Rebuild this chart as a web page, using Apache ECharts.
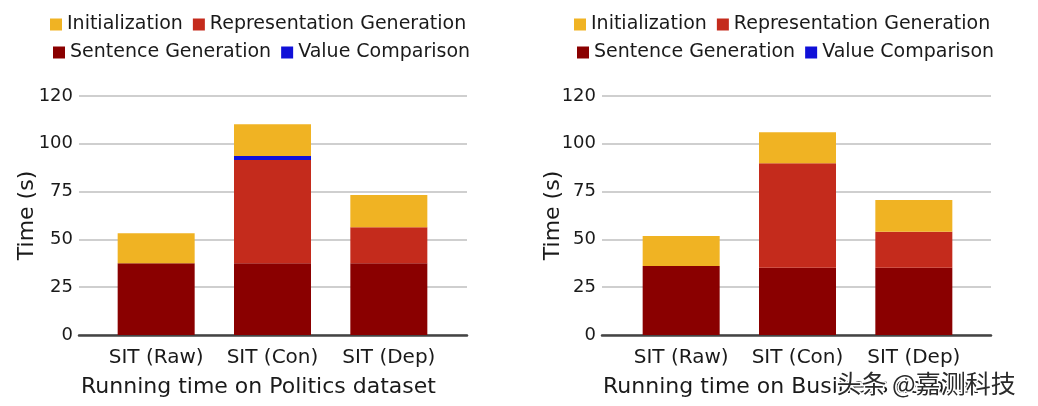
<!DOCTYPE html>
<html>
<head>
<meta charset="utf-8">
<script src="https://cdn.jsdelivr.net/npm/echarts@6/dist/echarts.min.js"></script>
<style>
html,body{margin:0;padding:0;background:#fff;}
#main{width:1038px;height:406px;}
</style>
</head>
<body>
<div id="main"></div>
<script>
// ---- data ----
const categories = ['SIT (Raw)', 'SIT (Con)', 'SIT (Dep)'];
const seriesNames = ['Sentence Generation', 'Representation Generation', 'Value Comparison', 'Initialization'];
// Politics dataset (left)
const politicsSentence = [37.5, 37.5, 37.5];
const politicsRepresentation = [0, 54.0, 18.8];
const politicsValue = [0, 2.1, 0];
const politicsInit = [15.7, 16.6, 16.9];
// Business dataset (right)
const businessSentence = [36.1, 35.2, 35.2];
const businessRepresentation = [0, 54.6, 18.8];
const businessValue = [0, 0, 0];
const businessInit = [15.7, 16.2, 16.6];
const tickLabels = ['0', '25', '50', '75', '100', '120'];
const titles = ['Running time on Politics dataset', 'Running time on Business dataset'];
const yName = 'Time (s)';
const watermark = '头条 @嘉测科技';

const colors = {
  'Initialization': '#f0b323',
  'Representation Generation': '#c42b1c',
  'Sentence Generation': '#8a0000',
  'Value Comparison': '#1010d8'
};
const FONT = 'DejaVu Sans';
const TXT = '#1a1a1a';

const panels = [
  {outerLeft: 79, outerW: 388, innerLeft: 98, innerW: 349, legendLeft: 45, titleLeft: 76, nameGap: 41,
   data: [politicsSentence, politicsRepresentation, politicsValue, politicsInit]},
  {outerLeft: 602, outerW: 389, innerLeft: 623, innerW: 349, legendLeft: 569, titleLeft: 598, nameGap: 38,
   data: [businessSentence, businessRepresentation, businessValue, businessInit]}
];

const grid = [], xAxis = [], yAxis = [], series = [], legend = [], title = [];
panels.forEach((p, i) => {
  const go = grid.length;
  grid.push({left: p.outerLeft, width: p.outerW, top: 96, bottom: 71});
  grid.push({left: p.innerLeft, width: p.innerW, top: 96, bottom: 71});
  // outer axes (gridlines, tick labels, baseline)
  xAxis.push({gridIndex: go, type: 'value', min: 0, max: 1, show: true,
    axisLine: {show: true, onZero: false, lineStyle: {color: '#444', width: 2.5}},
    axisTick: {show: false}, axisLabel: {show: false}, splitLine: {show: false}});
  yAxis.push({gridIndex: go, type: 'value', min: 0, max: 125, interval: 25,
    name: yName, nameLocation: 'middle', nameGap: p.nameGap, nameMoveOverlap: false,
    nameTextStyle: {fontFamily: FONT, fontSize: 22, color: TXT},
    axisLine: {show: false}, axisTick: {show: false},
    axisLabel: {fontFamily: FONT, fontSize: 18, color: TXT, margin: 6,
      formatter: v => tickLabels[Math.round(v / 25)]},
    splitLine: {show: true, lineStyle: {color: '#cfcfcf', width: 2}}});
  // inner axes (bars)
  xAxis.push({gridIndex: go + 1, type: 'category', data: categories,
    axisLine: {show: false}, axisTick: {show: false},
    axisLabel: {fontFamily: FONT, fontSize: 20, color: TXT, margin: 13, interval: 0, hideOverlap: false}});
  yAxis.push({gridIndex: go + 1, type: 'value', min: 0, max: 125, show: false, splitLine: {show: false}});
  seriesNames.forEach((n, k) => {
    series.push({name: n, type: 'bar', stack: 'p' + i, xAxisIndex: go + 1, yAxisIndex: go + 1,
      barWidth: 77, itemStyle: {color: colors[n]}, data: p.data[k], z: 3});
  });
  const lt = {fontFamily: FONT, fontSize: 19, color: TXT};
  legend.push({left: p.legendLeft, top: 10, itemWidth: 12, itemHeight: 12, itemGap: 10,
    icon: 'rect', textStyle: lt, data: ['Initialization', 'Representation Generation']});
  legend.push({left: p.legendLeft + 3, top: 38, itemWidth: 12, itemHeight: 12, itemGap: 10,
    icon: 'rect', textStyle: lt, data: ['Sentence Generation', 'Value Comparison']});
  title.push({text: titles[i], left: p.titleLeft, top: 371,
    textStyle: {fontFamily: FONT, fontSize: 22, fontWeight: 'normal', color: TXT}});
});

const chart = echarts.init(document.getElementById('main'), null, {renderer: 'canvas'});
chart.setOption({
  animation: false,
  backgroundColor: '#ffffff',
  title, legend, grid, xAxis, yAxis, series,
  graphic: [{type: 'text', left: 835, top: 369, z: 100,
    style: {text: watermark, fontFamily: 'Noto Sans CJK SC', fontSize: 25, fill: '#2a2a2a',
      stroke: '#ffffff', lineWidth: 3}}]
});
</script>
</body>
</html>
